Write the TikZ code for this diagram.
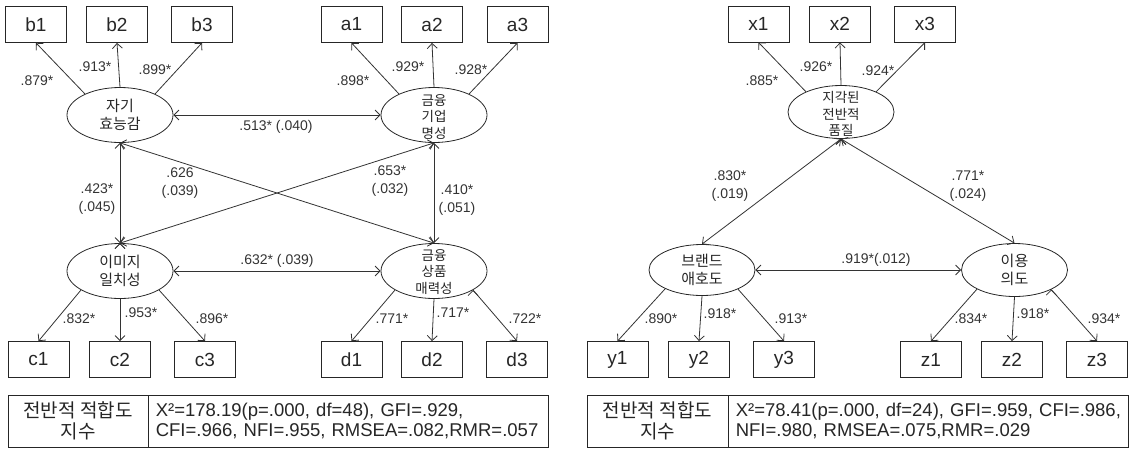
\documentclass[tikz,border=0pt]{standalone}
\usepackage{fontspec}
\setmainfont{Liberation Sans}
\newfontfamily\kr{Noto Sans CJK KR}
\usetikzlibrary{arrows.meta,shapes.geometric,positioning}

\begin{document}
\begin{tikzpicture}[x=1pt,y=-1pt,>={Straight Barb[length=5pt,width=10pt]},
                    line width=.8pt,
                    obs/.style={draw=black!85,rectangle,minimum width=61pt,minimum height=36pt,
                                inner sep=0pt,text=black!85,font=\fontsize{19}{21}\selectfont},
                    latent/.style={draw=black!85,ellipse,minimum width=106pt,minimum height=55pt,inner sep=0pt},
                    kname/.style={align=center,inner sep=0pt,text=black!85,font=\kr\fontsize{15}{17.5}\selectfont},
                    kname3/.style={align=center,inner sep=0pt,text=black!85,font=\kr\fontsize{13.5}{16.5}\selectfont},
                    coef/.style={align=center,inner sep=0pt,text=black!80,font=\fontsize{14}{18}\selectfont},
                    fitcell/.style={draw=black!85,rectangle,minimum height=52pt,inner ysep=0pt,text=black!85},
                    lnk/.style={draw=black!80}]
  \useasboundingbox (0,0) rectangle (1131,448);

  % left model: indicators
  \node[obs] (b1) at (36,24.5)    {b1};
  \node[obs] (b2) at (117,24.5)   {b2};
  \node[obs] (b3) at (202,24.5)   {b3};
  \node[obs] (a1) at (351.5,24.5) {a1};
  \node[obs] (a2) at (432,24.5)   {a2};
  \node[obs] (a3) at (517.5,24.5) {a3};
  \node[obs] (c1) at (38.5,359.5) {c1};
  \node[obs] (c2) at (120,359.5)  {c2};
  \node[obs] (c3) at (205,359.5)  {c3};
  \node[obs] (d1) at (351.5,359.5) {d1};
  \node[obs] (d2) at (432,359.5)  {d2};
  \node[obs] (d3) at (517,359.5)  {d3};

  % left model: factors
  \node[latent] (self)  at (120,115) {};
  \node[latent] (corp)  at (434,115) {};
  \node[latent] (image) at (120,271) {};
  \node[latent] (prod)  at (434,271) {};
  \node[kname]  (selfname)  at (self)  {자기\\효능감};
  \node[kname3] (corpname)  at ([yshift=-2pt]corp.center) {금융\\기업\\명성};
  \node[kname]  (imagename) at (image) {이미지\\일치성};
  \node[kname3] (prodname)  at ([yshift=-1pt]prod.center) {금융\\상품\\매력성};

  \path[->,lnk] (self.149)  edge (b1.south)
                (self.90)   edge (b2.south)
                (self.31)   edge (b3.south)
                (corp.149)  edge (a1.south)
                (corp.90)   edge (a2.south)
                (corp.31)   edge (a3.south)
                (image.206) edge (c1.north)
                (image.270) edge (c2.north)
                (image.334) edge (c3.north)
                (prod.206)  edge (d1.north)
                (prod.270)  edge (d2.north)
                (prod.334)  edge (d3.north);
  \path[<->,lnk] (self)        edge (corp)
                 (self)        edge (image)
                 (corp)        edge (prod)
                 (image)       edge (prod)
                 (self.south)  edge (prod.north)
                 (image.north) edge (corp.south);

  \node[coef] (lb1) at (37,81)  {.879*};
  \node[coef] (lb2) at (95,67)  {.913*};
  \node[coef] (lb3) at (155,70) {.899*};
  \node[coef] (la1) at (353,81) {.898*};
  \node[coef] (la2) at (408,67) {.929*};
  \node[coef] (la3) at (471,70) {.928*};
  \node[coef] (lc1) at (79,319)  {.832*};
  \node[coef] (lc2) at (141,313) {.953*};
  \node[coef] (lc3) at (212,319) {.896*};
  \node[coef] (ld1) at (392,319) {.771*};
  \node[coef] (ld2) at (453,313) {.717*};
  \node[coef] (ld3) at (525,319) {.722*};
  \node[coef] (lsc) at (276,127) {.513* (.040)};
  \node[coef] (lip) at (277,261) {.632* (.039)};
  \node[coef] (lsi) at (97,199)  {.423*\\(.045)};
  \node[coef] (lsp) at (180,183) {.626\\(.039)};
  \node[coef] (lic) at (390,181) {.653*\\(.032)};
  \node[coef] (lcp) at (457,200) {.410*\\(.051)};

  % right model: indicators
  \node[obs] (x1) at (758.5,24) {x1};
  \node[obs] (x2) at (840,24)   {x2};
  \node[obs] (x3) at (925,24)   {x3};
  \node[obs] (y1) at (617.5,359.5) {y1};
  \node[obs] (y2) at (699,359.5)   {y2};
  \node[obs] (y3) at (784,359.5)   {y3};
  \node[obs] (z1) at (931,359.5)   {z1};
  \node[obs] (z2) at (1012,359.5)  {z2};
  \node[obs] (z3) at (1097,359.5)  {z3};

  % right model: factors
  \node[latent,minimum height=53pt] (qual)  at (841,112)    {};
  \node[latent,minimum height=51pt] (brand) at (702,270)    {};
  \node[latent,minimum height=53pt] (use)   at (1014.5,270) {};
  \node[kname3] (qualname)  at ([yshift=-2pt]qual.center) {지각된\\전반적\\품질};
  \node[kname]  (brandname) at (brand) {브랜드\\애호도};
  \node[kname]  (usename)   at (use)   {이용\\의도};

  \path[->,lnk] (qual.150)  edge (x1.south)
                (qual.90)   edge (x2.south)
                (qual.30)   edge (x3.south)
                (brand.207) edge (y1.north)
                (brand.270) edge (y2.north)
                (brand.332) edge (y3.north)
                (use.207)   edge (z1.north)
                (use.270)   edge (z2.north)
                (use.332)   edge (z3.north);
  \path[<->,lnk] (qual.south) edge (brand.north)
                 (qual.south) edge (use.north)
                 (brand)      edge (use);

  \node[coef] (lx1) at (762,81)  {.885*};
  \node[coef] (lx2) at (816,67)  {.926*};
  \node[coef] (lx3) at (878,71)  {.924*};
  \node[coef] (ly1) at (661,319) {.890*};
  \node[coef] (ly2) at (720,314) {.918*};
  \node[coef] (ly3) at (791,319) {.913*};
  \node[coef] (lz1) at (971,319)  {.834*};
  \node[coef] (lz2) at (1033,314) {.918*};
  \node[coef] (lz3) at (1104,319) {.934*};
  \node[coef] (lqb) at (730,186) {.830*\\(.019)};
  \node[coef] (lqu) at (968,186) {.771*\\(.024)};
  \node[coef] (lbu) at (876,260) {.919*(.012)};

  % fit tables
  \node[fitcell,minimum width=140pt,inner xsep=0pt,align=center,
        font=\kr\fontsize{19}{21}\selectfont] (fitL) at (78,421) {전반적 적합도\\지수};
  \node[fitcell,anchor=west,text width=386pt,inner xsep=7pt,align=left,
        font=\fontsize{18.5}{20}\selectfont] (fitLval) at (fitL.east)
        {X²=178.19(p=.000, df=48), GFI=.929,\\CFI=.966, NFI=.955, RMSEA=.082,RMR=.057};
  \node[fitcell,minimum width=141pt,inner xsep=0pt,align=center,
        font=\kr\fontsize{19}{21}\selectfont] (fitR) at (657.5,421) {전반적 적합도\\지수};
  \node[fitcell,anchor=west,text width=386pt,inner xsep=7pt,align=left,
        font=\fontsize{18.5}{20}\selectfont] (fitRval) at (fitR.east)
        {X²=78.41(p=.000, df=24), GFI=.959, CFI=.986,\\NFI=.980, RMSEA=.075,RMR=.029};
\end{tikzpicture}
\end{document}
